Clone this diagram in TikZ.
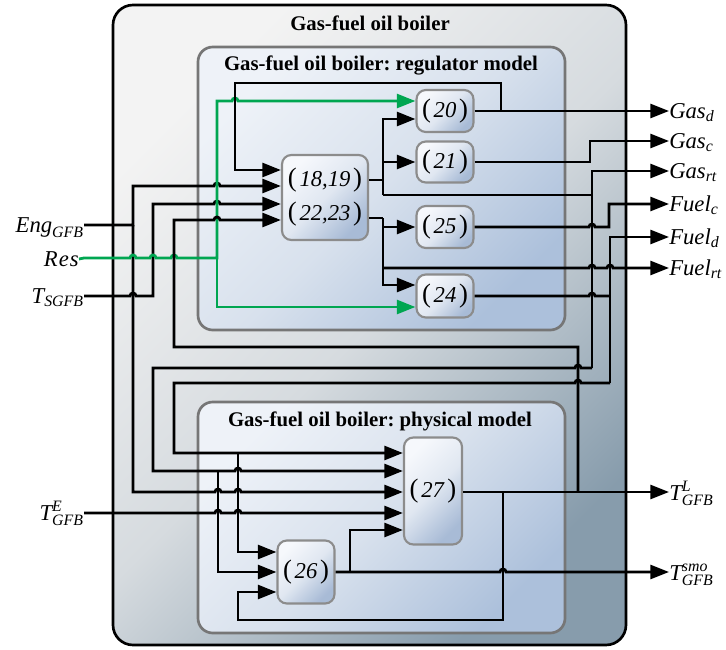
\documentclass[tikz,border=0pt]{standalone}
\usepackage{amsmath}
\usepackage{fontspec}
\setmainfont{Liberation Serif}
\usetikzlibrary{arrows.meta,calc}
\frenchspacing
\definecolor{grn}{RGB}{0,166,81}
\definecolor{outA}{RGB}{243,243,243}
\definecolor{outM}{RGB}{214,219,223}
\definecolor{outB}{RGB}{135,156,172}
\definecolor{inA}{RGB}{238,242,248}
\definecolor{inM}{RGB}{216,225,237}
\definecolor{inB}{RGB}{172,192,219}
\definecolor{bkA}{RGB}{246,248,252}
\definecolor{bkM}{RGB}{224,231,241}
\definecolor{bkB}{RGB}{168,187,214}
\definecolor{inline}{RGB}{118,118,118}
\definecolor{bkline}{RGB}{140,140,140}
\newcommand{\hopx}[2]{-- (#1-3,#2) arc[start angle=180,end angle=0,radius=2.25pt]}
\newcommand{\hopl}[2]{-- (#1+3,#2) arc[start angle=0,end angle=180,radius=2.25pt]}
\newcommand{\eqn}[1]{{\fontsize{20}{20}\selectfont(}\kern2pt\textit{#1}\kern2pt{\fontsize{20}{20}\selectfont)}}
\tikzset{
  outerbox/.style={draw=black, line width=2pt, rounded corners=15pt, inner sep=0pt,
    top color=outA, bottom color=outB, middle color=outM, shading angle=45},
  innerbox/.style={draw=inline, line width=2pt, rounded corners=11pt, inner sep=0pt,
    top color=inA, bottom color=inB, middle color=inM, shading angle=45},
  blk/.style={draw=bkline, line width=1.6pt, rounded corners=7pt, inner sep=0pt,
    top color=bkA, bottom color=bkB, middle color=bkM, shading angle=45,
    font=\fontsize{17}{25.5}\selectfont, align=center},
  wire/.style={line width=2.1pt, draw=black},
  arr/.style={wire, -{Triangle[length=14pt,width=10.5pt]}},
  garr/.style={line width=2.1pt, draw=grn, color=grn, -{Triangle[length=14pt,width=10.5pt]}},
  lbl/.style={inner sep=0pt, font=\fontsize{17}{20}\selectfont},
  ttl/.style={inner sep=0pt, font=\bfseries\fontsize{15.6}{18}\selectfont}
}
\begin{document}
\begin{tikzpicture}[x=0.75pt,y=-0.75pt]
\useasboundingbox (0,0) rectangle (726,650);
% containers
\node[outerbox, minimum width=384.75pt, minimum height=480pt] (outer) at (369.5,325) {};
\node[innerbox, minimum width=275.25pt, minimum height=212.25pt] (reg) at (381.5,188.5) {};
\node[innerbox, minimum width=275.25pt, minimum height=173.25pt] (phys) at (381.5,517.5) {};
\node[ttl] (t0) at (370,23) {Gas-fuel oil boiler};
\node[ttl] (t1) at (381,65) {Gas-fuel oil boiler: regulator model};
\node[ttl] (t2) at (380,421) {Gas-fuel oil boiler: physical model};
% blocks
\node[blk, minimum width=64.5pt, minimum height=63.75pt] (b1819) at (325,197.5) {\eqn{18,19}\\\eqn{22,23}};
\node[blk, minimum width=42.75pt, minimum height=31.5pt] (b20) at (445,111) {\eqn{20}};
\node[blk, minimum width=42.75pt, minimum height=30.75pt] (b21) at (445,162) {\eqn{21}};
\node[blk, minimum width=42.75pt, minimum height=31.5pt] (b25) at (445,227) {\eqn{25}};
\node[blk, minimum width=42.75pt, minimum height=32.25pt] (b24) at (445,296) {\eqn{24}};
\node[blk, minimum width=42.75pt, minimum height=47.25pt] (b26) at (306,572) {\eqn{26}};
\node[blk, minimum width=43.5pt, minimum height=80.25pt] (b27) at (433,491) {\eqn{27}};
% labels
\node[lbl, anchor=base east] (eng) at (84,232) {$\textit{Eng}_{\textit{GFB}}$};
\node[lbl, anchor=base east] (res) at (79,266) {\textit{R\kern0.8pt e\kern0.8pt s}};
\node[lbl, anchor=base east] (tsg) at (84,303) {$\textit{T}_{\textit{SGFB}}$};
\node[lbl, anchor=base east] (te) at (84,520) {$\textit{T}^{\textit{E}}_{\textit{GFB}}$};
\node[lbl, anchor=base west] (gasd) at (669,118) {$\textit{Gas}_{\textit{d}}$};
\node[lbl, anchor=base west] (gasc) at (669,148) {$\textit{Gas}_{\textit{c}}$};
\node[lbl, anchor=base west] (gasrt) at (669,178) {$\textit{Gas}_{\textit{rt}}$};
\node[lbl, anchor=base west] (fuelc) at (669,211) {$\textit{Fuel}_{\textit{c}}$};
\node[lbl, anchor=base west] (fueld) at (669,244) {$\textit{Fuel}_{\textit{d}}$};
\node[lbl, anchor=base west] (fuelrt) at (669,275) {$\textit{Fuel}_{\textit{rt}}$};
\node[lbl, anchor=base west] (tl) at (669,500) {$\textit{T}^{\textit{L}}_{\textit{GFB}}$};
\node[lbl, anchor=base west] (tsmo) at (669,580) {$\textit{T}^{\textit{smo}}_{\textit{GFB}}$};
% inputs
\draw[arr] ([yshift=5.25pt]eng.base east) -- (133,225) -- (133,186) \hopx{217}{186} -- (b1819.west|-0,186);
\draw[arr] (133,225) -- (133,492) \hopx{218}{492}\hopx{238}{492} -- (b27.west|-0,492);
\draw[arr] ([yshift=5.25pt]tsg.base east) \hopx{133}{296} -- (153,296) -- (153,204) \hopx{217}{204} -- (b1819.west|-0,204);
\draw[garr] ([yshift=5.25pt]res.base east) -- (84,258) \hopx{133}{258}\hopx{153}{258}\hopx{174}{258} -- (217,258) -- (217,101) \hopx{235}{101} -- (b20.west|-0,101);
\draw[garr] (217,258) -- (217,307) -- (b24.west|-0,307);
% (20)
\draw[arr] (b20.east) -- ([yshift=5.25pt]gasd.base west);
\draw[arr] (501,111) -- (501,83) -- (235,83) -- (235,170) -- (b1819.west|-0,170);
% (18,19) upper output
\draw[wire] (b1819.east|-0,180) -- (383,180);
\draw[arr] (383,195) -- (383,119) -- (b20.west|-0,119);
\draw[arr] (383,162) -- (b21.west);
\draw[wire] (383,195) -- (592,195);
\draw[arr] (592,368) -- (592,171) -- ([yshift=5.25pt]gasrt.base west);
\draw[arr] (592,368) \hopl{578}{368} -- (153,368) -- (153,471) \hopx{238}{471} -- (b27.west|-0,471);
\draw[arr] (218,471) -- (218,572) -- (b26.west|-0,572);
% (22,23) lower output
\draw[wire] (b1819.east|-0,218) -- (383,218);
\draw[arr] (383,218) -- (383,285) -- (b24.west|-0,285);
\draw[arr] (383,227) -- (b25.west);
\draw[arr] (383,268) \hopx{592}{268}\hopx{610}{268} -- ([yshift=5.25pt]fuelrt.base west);
% (21), (25), (24)
\draw[arr] (b21.east) -- (590,162) -- (590,141) -- ([yshift=5.25pt]gasc.base west);
\draw[arr] (b25.east) \hopx{592}{227} -- (609,227) -- (609,204) -- ([yshift=5.25pt]fuelc.base west);
\draw[wire] (b24.east) \hopx{592}{296} -- (610,296);
\draw[arr] (610,383) -- (610,237) -- ([yshift=5.25pt]fueld.base west);
\draw[arr] (610,383) \hopl{578}{383} -- (174,383) -- (174,453) -- (b27.west|-0,453);
\draw[arr] (238,453) -- (238,552) -- (b26.west|-0,552);
% (27) output
\draw[arr] (b27.east|-0,492) -- ([yshift=6pt]tl.base west);
\draw[arr] (578,492) -- (578,347) -- (174,347) -- (174,220) \hopx{217}{220} -- (b1819.west|-0,220);
\draw[arr] (503,492) -- (503,620) -- (238,620) -- (238,592) -- (b26.west|-0,592);
% (26) output
\draw[arr] (b26.east) \hopx{503}{572} -- ([yshift=6pt]tsmo.base west);
\draw[arr] (350,572) -- (350,530) -- (b27.west|-0,530);
% T^E
\draw[arr] ([yshift=5.25pt]te.base east) \hopx{218}{513}\hopx{238}{513} -- (b27.west|-0,513);
\end{tikzpicture}
\end{document}
